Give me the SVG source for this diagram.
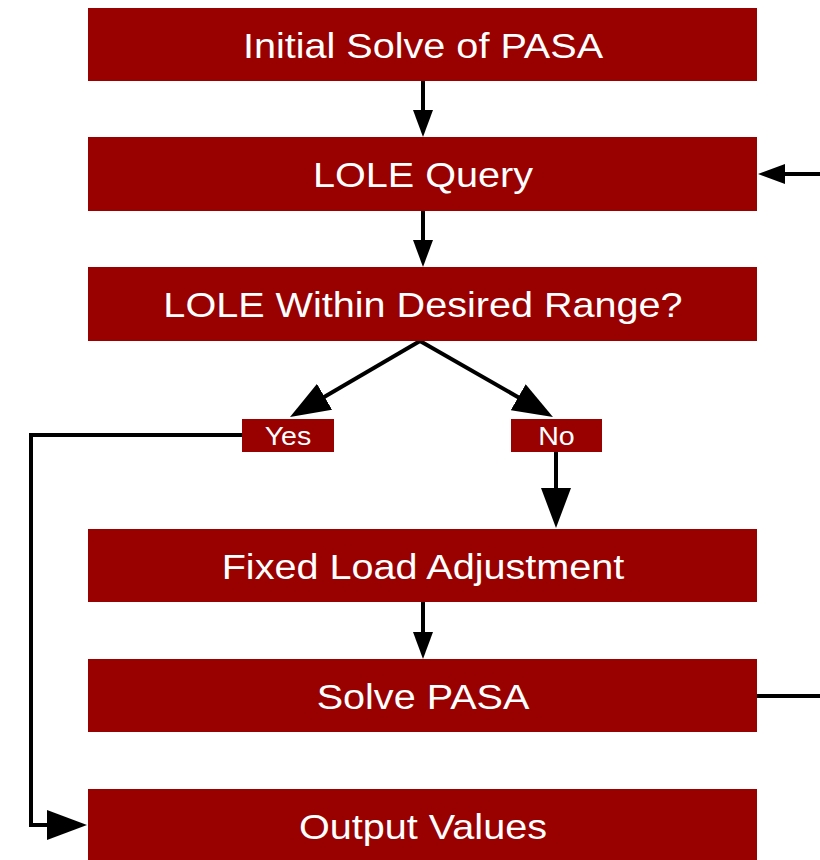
<svg xmlns="http://www.w3.org/2000/svg" width="820" height="860" viewBox="0 0 820 860">
<style>
.box{fill:#990000;}
.t{fill:#ffffff;font-family:"Liberation Sans",Arial,sans-serif;font-size:36px;text-anchor:middle;}
.lt{fill:#ffffff;font-family:"Liberation Sans",Arial,sans-serif;font-size:26px;text-anchor:middle;}
.c{fill:none;stroke:#000000;stroke-width:4;}
</style>
<defs>
<marker id="small" markerUnits="userSpaceOnUse" markerWidth="27" markerHeight="20" viewBox="0 0 27 20" refX="1" refY="10" orient="auto"><path d="M0,0 L27,10 L0,20 z" fill="#000"/></marker>
<marker id="big" markerUnits="userSpaceOnUse" markerWidth="40" markerHeight="30" viewBox="0 0 40 30" refX="1" refY="15" orient="auto"><path d="M0,0 L40,15 L0,30 z" fill="#000"/></marker>
</defs>
<rect width="820" height="860" fill="#ffffff"/>
<g id="connectors">
<line class="c" x1="423" y1="81" x2="423" y2="111" marker-end="url(#small)"/>
<line class="c" x1="423" y1="211" x2="423" y2="241" marker-end="url(#small)"/>
<line class="c" x1="420" y1="341" x2="323.7" y2="397.3" marker-end="url(#big)"/>
<line class="c" x1="420" y1="341" x2="519.1" y2="397.7" marker-end="url(#big)"/>
<line class="c" x1="556" y1="452" x2="556" y2="489" marker-end="url(#big)"/>
<line class="c" x1="423" y1="602" x2="423" y2="633" marker-end="url(#small)"/>
<path class="c" d="M757,696 H824"/>
<path class="c" d="M824,174 H784" marker-end="url(#small)"/>
<path class="c" d="M242,435 H31 V825 H48" marker-end="url(#big)"/>
</g>
<g id="n1"><rect class="box" x="88" y="8" width="669" height="73"/><text class="t" transform="translate(423,57.5) scale(1.1,1)">Initial Solve of PASA</text></g>
<g id="n2"><rect class="box" x="88" y="137" width="669" height="74"/><text class="t" transform="translate(423,187) scale(1.1,1)">LOLE Query</text></g>
<g id="n3"><rect class="box" x="88" y="267" width="669" height="74"/><text class="t" transform="translate(423,317) scale(1.1,1)">LOLE Within Desired Range?</text></g>
<g id="yes"><rect class="box" x="242" y="419" width="92" height="33"/><text class="lt" transform="translate(288,445) scale(1.1,1)">Yes</text></g>
<g id="no"><rect class="box" x="511" y="419" width="91" height="33"/><text class="lt" transform="translate(556.5,445) scale(1.1,1)">No</text></g>
<g id="n4"><rect class="box" x="88" y="529" width="669" height="73"/><text class="t" transform="translate(423,578.5) scale(1.1,1)">Fixed Load Adjustment</text></g>
<g id="n5"><rect class="box" x="88" y="659" width="669" height="73"/><text class="t" transform="translate(423,708.5) scale(1.1,1)">Solve PASA</text></g>
<g id="n6"><rect class="box" x="88" y="789" width="669" height="75"/><text class="t" transform="translate(423,838.5) scale(1.1,1)">Output Values</text></g>
</svg>
